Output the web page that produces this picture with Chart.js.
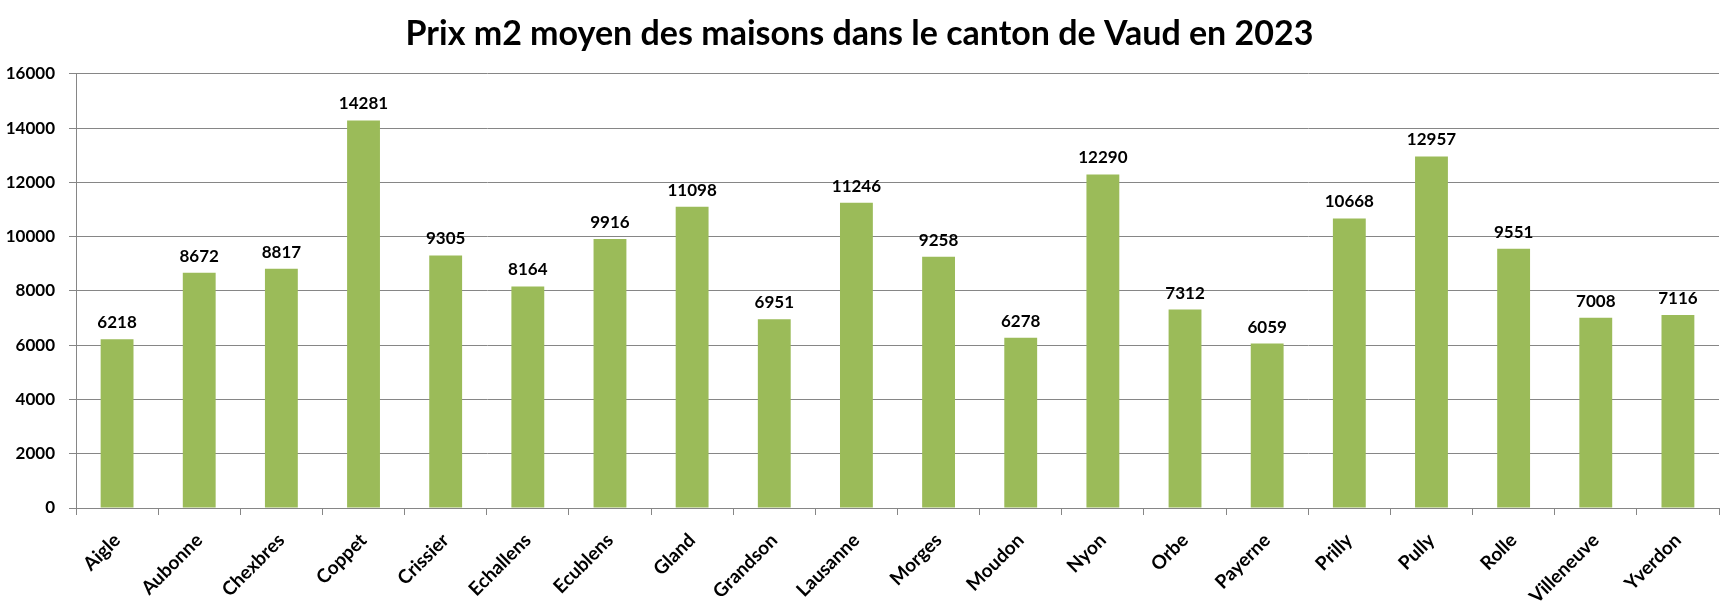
<!DOCTYPE html>
<html>
<head>
<meta charset="utf-8">
<script src="https://cdn.jsdelivr.net/npm/chart.js@4"></script>
<style>
  html, body { margin: 0; padding: 0; background: #fff; }
  #wrap { width: 1733px; height: 607px; }
</style>
</head>
<body>
<div id="wrap"><canvas id="prixChart"></canvas></div>
<script>
const communes = ["Aigle", "Aubonne", "Chexbres", "Coppet", "Crissier", "Echallens", "Ecublens", "Gland", "Grandson", "Lausanne", "Morges", "Moudon", "Nyon", "Orbe", "Payerne", "Prilly", "Pully", "Rolle", "Villeneuve", "Yverdon"];
const prixM2 = [6218, 8672, 8817, 14281, 9305, 8164, 9916, 11098, 6951, 11246, 9258, 6278, 12290, 7312, 6059, 10668, 12957, 9551, 7008, 7116];
const yTicks = [0, 2000, 4000, 6000, 8000, 10000, 12000, 14000, 16000];

const FONT = "Lato, Carlito, Calibri, sans-serif";

// valeurs au-dessus des barres
const valueLabels = {
  id: "valueLabels",
  afterDatasetsDraw(chart) {
    const ctx = chart.ctx;
    const meta = chart.getDatasetMeta(0);
    ctx.save();
    ctx.font = "bold 17px " + FONT;
    ctx.fillStyle = "#000";
    ctx.textAlign = "center";
    ctx.textBaseline = "alphabetic";
    meta.data.forEach((bar, i) => {
      ctx.fillText(prixM2[i], bar.x, bar.y - 11);
    });
    ctx.restore();
  }
};

const ctx = document.getElementById("prixChart");

new Chart(ctx, {
  type: "bar",
  data: {
    labels: communes,
    datasets: [
      {
        label: "Prix m2",
        data: prixM2,
        backgroundColor: "#9BBB59",
        borderWidth: 0,
        categoryPercentage: 1,
        barPercentage: 0.4,
      },
    ],
  },
  options: {
    responsive: true,
    maintainAspectRatio: false,
    animation: false,
    layout: { padding: { left: 0, right: 14, top: 0, bottom: 0 } },
    plugins: {
      legend: { display: false },
      tooltip: { enabled: false },
      title: {
        display: true,
        text: "Prix m2 moyen des maisons dans le canton de Vaud en 2023",
        color: "#000",
        font: { family: FONT, size: 34, weight: "bold" },
        padding: { top: 14, bottom: 19 },
      },
    },
    scales: {
      x: {
        grid: {
          offset: true,
          drawOnChartArea: false,
          color: "#868686",
          tickLength: 7,
        },
        border: { color: "#868686", width: 1 },
        ticks: {
          color: "#000",
          font: { family: FONT, size: 19, weight: "bold" },
          minRotation: 45,
          maxRotation: 45,
          autoSkip: false,
          padding: 14,
        },
        afterFit: (s) => { s.height = 99; },
      },
      y: {
        min: 0,
        max: 16000,
        afterBuildTicks: (s) => { s.ticks = yTicks.map((v) => ({ value: v })); },
        grid: { color: "#868686", tickLength: 7 },
        border: { color: "#868686", width: 1 },
        ticks: {
          color: "#000",
          font: { family: FONT, size: 17, weight: "bold" },
          padding: 14,
          callback: (v) => String(v),
        },
        afterFit: (s) => { s.width = 76; },
      },
    },
  },
  plugins: [valueLabels],
});
</script>
</body>
</html>
